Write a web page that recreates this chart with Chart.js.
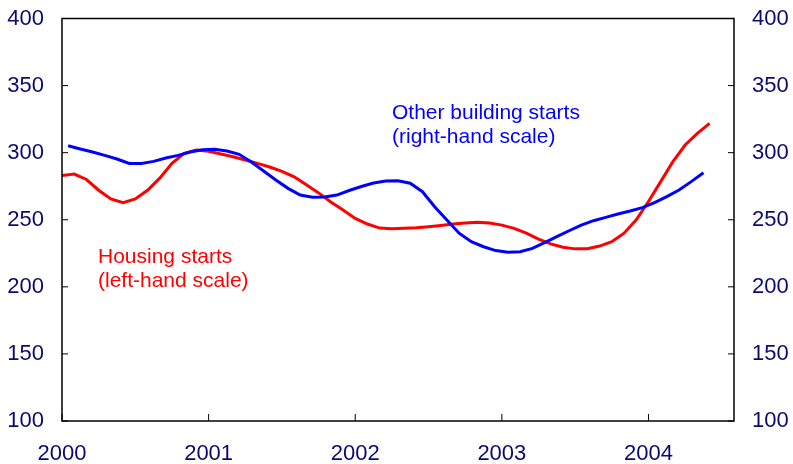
<!DOCTYPE html>
<html>
<head>
<meta charset="utf-8">
<script src="https://cdn.jsdelivr.net/npm/chart.js@4"></script>
<style>
  html, body { margin: 0; padding: 0; background: #fff; }
  #wrap { width: 793px; height: 464px; }
</style>
</head>
<body>
<div id="wrap"><canvas id="chart" width="793" height="464"></canvas></div>
<script>
// months since Jan 2000
const yearTicks = [0, 12, 24, 36, 48];
const yearLabels = ['2000', '2001', '2002', '2003', '2004'];
const yTicks = [100, 150, 200, 250, 300, 350, 400];

// Housing starts (left-hand scale), monthly from Jan 2000
const housing = [283, 284, 280, 272, 265.5, 262.7, 265.5, 272, 281, 292, 299.5, 302,
  301, 299, 297, 294.5, 292, 289.3, 286, 282, 276, 270, 263.3, 257.3,
  251, 246.8, 243.8, 243.3, 243.6, 244, 244.8, 245.8, 246.8, 247.6, 248.1, 247.6,
  246, 243.6, 240, 235.6, 232, 229.5, 228.3, 228.4, 230.4, 233.6, 240, 250,
  263.6, 278.4, 293.3, 305.7, 314.4, 321.9];

// Other building starts (right-hand scale), centred mid-month
const other = [305.2, 302.7, 300.5, 298, 295.3, 292, 292, 293.5, 296, 298, 300.5, 302.2,
  302.5, 301.2, 298.8, 293, 286.3, 279.6, 273.4, 268.4, 266.7, 267, 268.4, 271.8,
  274.8, 277.4, 278.9, 279.1, 277.2, 270.9, 259.7, 249.8, 240, 233.6, 229.9, 227,
  225.7, 226.2, 228.7, 232.9, 237.4, 241.8, 246, 249.3, 251.8, 254.3, 256.5, 259,
  262.7, 267.2, 272.2, 278.4, 285];

const tickColor = '#0b0b6e';
const font = { family: '"Liberation Sans", Arial, sans-serif', size: 22 };

// frame and inward tick marks
const framePlugin = {
  id: 'frame',
  afterDatasetsDraw(chart) {
    const { ctx, chartArea: a, scales } = chart;
    ctx.save();
    ctx.strokeStyle = '#000';
    ctx.lineWidth = 1.5;
    ctx.strokeRect(a.left, a.top, a.right - a.left, a.bottom - a.top);
    ctx.lineWidth = 1;
    ctx.beginPath();
    yTicks.forEach(v => {
      const yl = scales.y.getPixelForValue(v);
      ctx.moveTo(a.left, yl); ctx.lineTo(a.left + 6, yl);
      const yr = scales.y2.getPixelForValue(v);
      ctx.moveTo(a.right, yr); ctx.lineTo(a.right - 6, yr);
    });
    yearTicks.forEach(v => {
      const x = scales.x.getPixelForValue(v);
      ctx.moveTo(x, a.bottom); ctx.lineTo(x, a.bottom - 7);
    });
    ctx.stroke();

    ctx.font = '21px "Liberation Sans", Arial, sans-serif';
    ctx.textBaseline = 'alphabetic';
    ctx.fillStyle = '#ff0000';
    ctx.fillText('Housing starts', 98, 263);
    ctx.fillText('(left-hand scale)', 98, 287);
    ctx.fillStyle = '#0000ff';
    ctx.fillText('Other building starts', 392, 119);
    ctx.fillText('(right-hand scale)', 392, 143);
    ctx.restore();
  }
};

const yAxis = (position, width) => ({
  type: 'linear',
  position: position,
  min: 100,
  max: 400,
  afterBuildTicks: s => { s.ticks = yTicks.map(v => ({ value: v })); },
  afterFit: s => { s.width = width; s.paddingTop = 0; s.paddingBottom = 0; },
  grid: { display: false, drawTicks: false },
  border: { display: false },
  ticks: { color: tickColor, font: font, padding: 18 }
});

new Chart(document.getElementById('chart'), {
  type: 'line',
  data: {
    datasets: [
      {
        label: 'Other building starts',
        data: other.map((v, i) => ({ x: i + 0.5, y: v })),
        yAxisID: 'y2',
        borderColor: '#0000ff',
        borderWidth: 3,
        pointRadius: 0,
        tension: 0,
        order: 0
      },
      {
        label: 'Housing starts',
        data: housing.map((v, i) => ({ x: i, y: v })),
        yAxisID: 'y',
        borderColor: '#ff0000',
        borderWidth: 3,
        pointRadius: 0,
        tension: 0,
        order: 1
      }
    ]
  },
  options: {
    responsive: false,
    animation: false,
    layout: { padding: { top: 18.5, left: 0, right: 0, bottom: 0 } },
    plugins: { legend: { display: false }, tooltip: { enabled: false } },
    scales: {
      x: {
        type: 'linear',
        min: 0,
        max: 55,
        afterBuildTicks: s => { s.ticks = yearTicks.map(v => ({ value: v })); },
        afterFit: s => { s.height = 43; },
        grid: { display: false, drawTicks: false },
        border: { display: false },
        ticks: {
          color: tickColor,
          font: font,
          padding: 20,
          maxRotation: 0,
          callback: v => yearLabels[yearTicks.indexOf(v)]
        }
      },
      y: yAxis('left', 62),
      y2: yAxis('right', 59)
    }
  },
  plugins: [framePlugin]
});
</script>
</body>
</html>
